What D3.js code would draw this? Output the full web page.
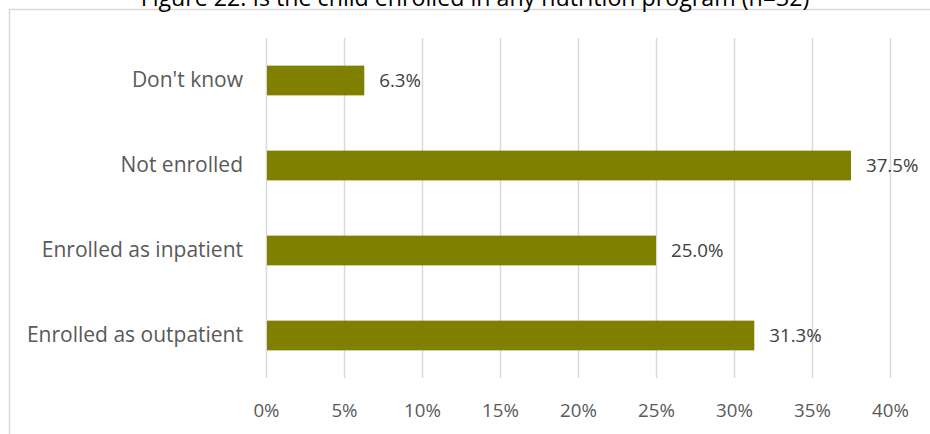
<!DOCTYPE html>
<html>
<head>
<meta charset="utf-8">
<script src="https://cdn.jsdelivr.net/npm/d3@7"></script>
<style>
  html, body { margin: 0; padding: 0; background: #fff; }
  svg { display: block; }
  text { font-family: "Open Sans", "Noto Sans", "Liberation Sans", sans-serif; }
</style>
</head>
<body>
<svg id="chart" width="930" height="434"></svg>
<script>
// Survey responses: share of children enrolled in a nutrition program
const categories = ["Don't know", "Not enrolled", "Enrolled as inpatient", "Enrolled as outpatient"];
const values = [6.3, 37.5, 25.0, 31.3];
const tickValues = [0, 5, 10, 15, 20, 25, 30, 35, 40];
const title = "Figure 22: Is the child enrolled in any nutrition program (n=32)";

const svg = d3.select("#chart");
const W = 930, H = 434;
const plot = { left: 266, right: 890, top: 38, bottom: 378 };

// Chart frame
svg.append("path")
  .attr("d", `M${W + 5},9.5 H9.5 V${H + 5}`)
  .attr("fill", "none")
  .attr("stroke", "#d9d9d9")
  .attr("stroke-width", 1.5);

// Title (runs past the top edge of the page)
svg.append("text")
  .attr("x", 475)
  .attr("y", 6)
  .attr("text-anchor", "middle")
  .attr("fill", "#000")
  .style("font-size", "23.2px")
  .text(title);

const x = d3.scaleLinear().domain([0, 40]).range([plot.left, plot.right]);
const y = d3.scaleBand().domain(categories).range([plot.top, plot.bottom]).paddingInner(0.65).paddingOuter(0.325);

// Vertical gridlines
svg.append("g")
  .selectAll("line")
  .data(tickValues)
  .join("line")
  .attr("x1", d => Math.round(x(d)) + 0.5)
  .attr("x2", d => Math.round(x(d)) + 0.5)
  .attr("y1", plot.top)
  .attr("y2", plot.bottom)
  .attr("stroke", "#d9d9d9")
  .attr("stroke-width", 1.5);

// X axis tick labels
const xAxis = d3.axisBottom(x).tickValues(tickValues).tickFormat(d => d + "%").tickSize(0).tickPadding(0);
const gx = svg.append("g").attr("transform", `translate(0, 400)`).call(xAxis);
gx.select(".domain").remove();
gx.selectAll("text").attr("fill", "#595959").style("font-size", "18.7px").attr("dy", "0.35em").attr("y", 10);

// Y axis category labels
const yAxis = d3.axisLeft(y).tickSize(0).tickPadding(0);
const gy = svg.append("g").attr("transform", `translate(243, 0)`).call(yAxis);
gy.select(".domain").remove();
gy.selectAll("text").attr("fill", "#595959").style("font-size", "21px").attr("dy", "0.32em");

// Bars
svg.append("g")
  .selectAll("rect")
  .data(values)
  .join("rect")
  .attr("x", x(0) + 1)
  .attr("y", (d, i) => y(categories[i]))
  .attr("width", d => x(d) - x(0) - 1)
  .attr("height", y.bandwidth())
  .attr("fill", "#808000");

// Value labels
svg.append("g")
  .selectAll("text")
  .data(values)
  .join("text")
  .attr("x", d => x(d) + 15)
  .attr("y", (d, i) => y(categories[i]) + y.bandwidth() / 2)
  .attr("dy", "0.35em")
  .attr("fill", "#404040")
  .style("font-size", "18.7px")
  .text(d => d.toFixed(1) + "%");
</script>
</body>
</html>
